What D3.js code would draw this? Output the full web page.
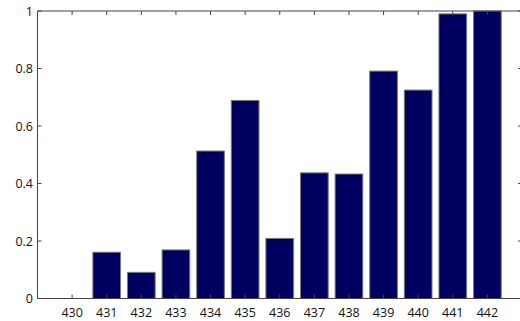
<!DOCTYPE html>
<html><head><meta charset="utf-8">
<script src="https://cdn.jsdelivr.net/npm/d3@7"></script>
<style>html,body{margin:0;padding:0;background:#fff;}svg{display:block;}</style>
</head><body>
<script>
const categories = [430,431,432,433,434,435,436,437,438,439,440,441,442];
const values = [0,0.161,0.091,0.169,0.513,0.689,0.209,0.437,0.433,0.791,0.725,0.99,1.0];
const yTicks = [0,0.2,0.4,0.6,0.8,1];
const yTickLabels = ["0","0.2","0.4","0.6","0.8","1"];

const W=520,H=321;
const svg=d3.select("body").append("svg").attr("width",W).attr("height",H);
svg.append("rect").attr("width",W).attr("height",H).attr("fill","#fff");

const x=d3.scaleLinear().domain([429,443]).range([37.5,522]);
const y=d3.scaleLinear().domain([0,1]).range([298.5,11]);
const bw=(x(431)-x(430))*0.8;

const font="'Open Sans', 'DejaVu Sans', sans-serif";
svg.append("g").selectAll("rect").data(categories).join("rect")
  .attr("x",(d)=>x(d)-bw/2)
  .attr("y",(d,i)=>y(values[i]))
  .attr("width",bw)
  .attr("height",(d,i)=>y(0)-y(values[i]))
  .attr("fill","#000060")
  .attr("stroke","#7a7a80").attr("stroke-width",1);

const ax=svg.append("g").attr("stroke","#444").attr("stroke-width",1).attr("fill","none");
ax.append("line").attr("x1",x(429)).attr("x2",x(443)).attr("y1",y(0)).attr("y2",y(0));
ax.append("line").attr("x1",x(429)).attr("x2",x(443)).attr("y1",y(1)).attr("y2",y(1));
ax.append("line").attr("x1",x(429)).attr("x2",x(429)).attr("y1",y(0)).attr("y2",y(1));
ax.append("line").attr("x1",x(443)).attr("x2",x(443)).attr("y1",y(0)).attr("y2",y(1));
ax.selectAll(".xb").data(categories).join("line").attr("x1",d=>x(d)).attr("x2",d=>x(d)).attr("y1",y(0)).attr("y2",y(0)-4);
ax.selectAll(".xt").data(categories).join("line").attr("x1",d=>x(d)).attr("x2",d=>x(d)).attr("y1",y(1)).attr("y2",y(1)+4);
ax.selectAll(".yl").data(yTicks).join("line").attr("x1",x(429)).attr("x2",x(429)+4).attr("y1",d=>y(d)).attr("y2",d=>y(d));
ax.selectAll(".yr").data(yTicks).join("line").attr("x1",x(443)).attr("x2",x(443)-4).attr("y1",d=>y(d)).attr("y2",d=>y(d));

svg.append("g").selectAll("text").data(categories).join("text")
  .attr("x",d=>x(d)).attr("y",316.5).attr("text-anchor","middle")
  .attr("font-family",font).attr("font-size",12.5).attr("fill","#111").text(d=>d);
svg.append("g").selectAll("text").data(yTicks).join("text")
  .attr("x",33).attr("y",d=>y(d)+4.5).attr("text-anchor","end")
  .attr("font-family",font).attr("font-size",12.5).attr("fill","#111").text((d,i)=>yTickLabels[i]);
</script>
</body></html>
